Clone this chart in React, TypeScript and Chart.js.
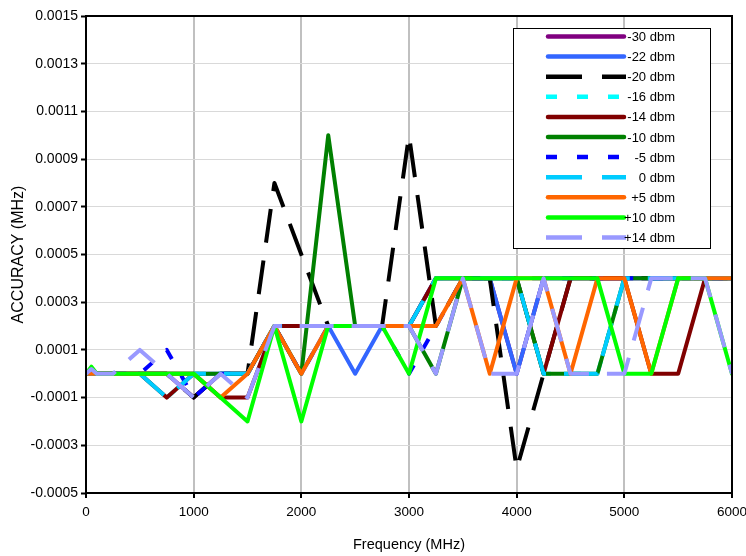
import { useEffect, useRef } from "react";
import { Chart, registerables } from "chart.js";

Chart.register(...registerables);

const FONT = '"Liberation Sans", Arial, sans-serif';

const FREQ = [0, 50, 100, 200, 250, 500, 750, 1000, 1250, 1500, 1750, 2000, 2250, 2500, 2750, 3000, 3250, 3500, 3750, 4000, 4250, 4500, 4750, 5000, 5250, 5500, 5750, 6000];

const M30 = [0, 0, 0, 0, 0, 0, 0, -0.0001, 0, 0, 0.0002, 0.0002, 0.0002, 0.0002, 0.0002, 0.0002, 0.0004, 0.0004, 0.0004, 0, 0.0004, 0.0004, 0.0004, 0.0004, 0.0004, 0.0004, 0.0004, 0.0004];
const M22 = [0, 0, 0, 0, 0, 0, 0, 0, 0, 0, 0.0002, 0, 0.0002, 0, 0.0002, 0.0002, 0.0004, 0.0004, 0.0004, 0, 0.0004, 0.0004, 0.0004, 0.0004, 0.0004, 0.0004, 0.0004, 0.0004];
const M20 = [0, 0, 0, 0, 0, 0, 0, -0.0001, 0, 0, 0.0008, 0.0005, 0.0002, 0.0002, 0.0002, 0.001, 0.0002, 0.0004, 0.0004, -0.0004, 0, 0.0004, 0.0004, 0.0004, 0.0004, 0.0004, 0.0004, 0.0004];
const M16 = [0, 0, 0, 0, 0, 0, -0.0001, 0, 0, 0, 0.0002, 0.0002, 0.0002, 0.0002, 0.0002, 0.0002, 0.0004, 0.0004, 0.0004, 0.0004, 0, 0, 0, 0.0004, 0.0004, 0.0004, 0.0004, 0.0004];
const M14 = [0, 0, 0, 0, 0, 0, -0.0001, 0, -0.0001, -0.0001, 0.0002, 0.0002, 0.0002, 0.0002, 0.0002, 0.0002, 0.0004, 0.0004, 0.0004, 0.0004, 0, 0.0004, 0.0004, 0.0004, 0, 0, 0.0004, 0.0004];
const M10 = [0, 0, 0, 0, 0, 0, 0, 0, 0, 0, 0.0002, 0, 0.001, 0.0002, 0.0002, 0.0002, 0, 0.0004, 0.0004, 0.0004, 0, 0, 0, 0.0004, 0.0004, 0.0004, 0.0004, 0.0004];
const M5 = [0, 0, 0.00001, 0, 0, 0, 0.0001, -0.0001, 0, 0, 0.0002, 0, 0.0002, 0.0002, 0.0002, 0, 0.0002, 0.0004, 0.0004, 0.0004, 0.0004, 0.0004, 0.0004, 0.0004, 0.0004, 0.0004, 0.0004, 0.0004];
const P0 = [0, 0, 0, 0, 0, 0, -0.0001, 0, 0, 0, 0.0002, 0.0002, 0.0002, 0.0002, 0.0002, 0.0002, 0.0004, 0.0004, 0.0004, 0.0004, 0, 0, 0, 0.0004, 0.0004, 0.0004, 0.0004, 0.0004];
const P5 = [0, 0, 0, 0, 0, 0, 0, 0, -0.0001, 0, 0.0002, 0, 0.0002, 0.0002, 0.0002, 0.0002, 0.0002, 0.0004, 0, 0.0004, 0.0004, 0, 0.0004, 0.0004, 0, 0.0004, 0.0004, 0.0004];
const P10 = [0, 0.00003, 0, 0, 0, 0, 0, 0, -0.0001, -0.0002, 0.0002, -0.0002, 0.0002, 0.0002, 0.0002, 0, 0.0004, 0.0004, 0.0004, 0.0004, 0.0004, 0.0004, 0.0004, 0, 0, 0.0004, 0.0004, 0];
const P14 = [0, 0.00002, 0, 0, 0, 0.0001, 0, -0.0001, 0, -0.0001, 0.0002, 0.0002, 0.0002, 0.0002, 0.0002, 0.0002, 0, 0.0004, 0, 0, 0.0004, 0, 0, 0, 0.0004, 0.0004, 0.0004, 0];

const SERIES_LABELS = ["-30 dbm", "-22 dbm", "-20 dbm", "-16 dbm", "-14 dbm", "-10 dbm", "-5 dbm", "0 dbm", "+5 dbm", "+10 dbm", "+14 dbm"];
const SERIES_VALUES = [M30, M22, M20, M16, M14, M10, M5, P0, P5, P10, P14];
const SERIES_COLORS = ["#800080", "#3366FF", "#000000", "#00FFFF", "#800000", "#008000", "#0000FF", "#00CCFF", "#FF6600", "#00FF00", "#9999FF"];
const LONG_DASH = [34, 18];
const SHORT_DASH = [11, 19];
const SERIES_DASH = [[], [], LONG_DASH, SHORT_DASH, [], [], SHORT_DASH, LONG_DASH, [], [], LONG_DASH];

const Y_TICKS = [-0.0005, -0.0003, -0.0001, 0.0001, 0.0003, 0.0005, 0.0007, 0.0009, 0.0011, 0.0013, 0.0015];
const X_MIN = 0;
const X_MAX = 6000;
const X_STEP = 1000;

const frameLegendPlugin = {
  id: "frameLegend",
  afterDatasetsDraw(chart: any) {
    const { ctx, chartArea: a } = chart;
    ctx.save();
    ctx.strokeStyle = "#000";
    ctx.lineWidth = 2;
    ctx.setLineDash([]);
    ctx.strokeRect(a.left, a.top, a.right - a.left, a.bottom - a.top);

    const bx = 513.5, by = 28.5, bw = 197, bh = 220;
    ctx.fillStyle = "#fff";
    ctx.fillRect(bx, by, bw, bh);
    ctx.lineWidth = 1;
    ctx.strokeRect(bx, by, bw, bh);
    chart.data.datasets.forEach((ds: any, i: number) => {
      const y = 36.5 + i * 20.1;
      const dashed = ds.borderDash && ds.borderDash.length > 0;
      ctx.beginPath();
      ctx.setLineDash(dashed ? (ds.borderDash[0] < 20 ? [11, 20] : [36, 20]) : []);
      ctx.lineCap = dashed ? "butt" : "round";
      ctx.lineWidth = 4.5;
      ctx.strokeStyle = ds.borderColor;
      ctx.moveTo(dashed ? 546 : 548, y);
      ctx.lineTo(dashed ? 626 : 624, y);
      ctx.stroke();
      ctx.setLineDash([]);
      ctx.fillStyle = "#000";
      ctx.font = `13px ${FONT}`;
      ctx.textAlign = "right";
      ctx.textBaseline = "middle";
      ctx.fillText(ds.label, 675, y + 1);
    });
    ctx.restore();
  },
};

export default function App() {
  const ref = useRef<HTMLCanvasElement | null>(null);

  useEffect(() => {
    if (!ref.current) return;
    const n = SERIES_LABELS.length;
    const datasets = SERIES_LABELS.map((label, i) => ({
      label,
      data: FREQ.map((f, j) => ({ x: f, y: SERIES_VALUES[i][j] })),
      borderColor: SERIES_COLORS[i],
      backgroundColor: SERIES_COLORS[i],
      borderWidth: 4,
      borderDash: SERIES_DASH[i],
      borderCapStyle: SERIES_DASH[i].length ? "butt" : "round",
      borderJoinStyle: "round",
      pointRadius: 0,
      tension: 0,
      fill: false,
      order: n - i,
    }));

    const chart = new Chart(ref.current, {
      type: "line",
      data: { datasets } as any,
      plugins: [frameLegendPlugin],
      options: {
        animation: false,
        responsive: false,
        devicePixelRatio: 1,
        layout: { padding: { left: 0, right: 14, top: 16, bottom: 0 } },
        plugins: { legend: { display: false }, tooltip: { enabled: false } },
        scales: {
          x: {
            type: "linear",
            min: X_MIN,
            max: X_MAX,
            ticks: {
              stepSize: X_STEP,
              color: "#000",
              font: { family: FONT, size: 13.5 },
              padding: 6,
              maxRotation: 0,
              callback: (v: any) => String(v),
            },
            grid: { color: "#c0c0c0", lineWidth: 2, tickColor: "#000", tickLength: 5, tickWidth: 2 },
            border: { display: true, color: "#000", width: 2 },
            title: {
              display: true,
              text: "Frequency (MHz)",
              color: "#000",
              font: { family: FONT, size: 14.5 },
              padding: { top: 0, bottom: 2 },
            },
            afterFit: (s: any) => { s.height = 63; s.paddingRight = 0; s.paddingLeft = 0; },
          },
          y: {
            type: "linear",
            min: Y_TICKS[0],
            max: Y_TICKS[Y_TICKS.length - 1],
            afterBuildTicks: (s: any) => { s.ticks = Y_TICKS.map((v) => ({ value: v })); },
            ticks: {
              color: "#000",
              font: { family: FONT, size: 14 },
              padding: 3,
              callback: (v: any) => Number(v).toFixed(4),
            },
            grid: { color: "#d9d9d9", lineWidth: 1, tickColor: "#000", tickLength: 5, tickWidth: 2 },
            border: { display: true, color: "#000", width: 2 },
            title: {
              display: true,
              text: "ACCURACY (MHz)",
              color: "#000",
              font: { family: FONT, size: 16 },
              padding: { top: 9, bottom: 0 },
            },
            afterFit: (s: any) => { s.width = 86; s.paddingTop = 0; s.paddingBottom = 0; },
          },
        },
      } as any,
    });
    return () => chart.destroy();
  }, []);

  return (
    <div style={{ position: "absolute", left: 0, top: 0, width: 746, height: 556, background: "#fff" }}>
      <canvas ref={ref} width={746} height={556} style={{ display: "block", width: 746, height: 556 }} />
    </div>
  );
}
